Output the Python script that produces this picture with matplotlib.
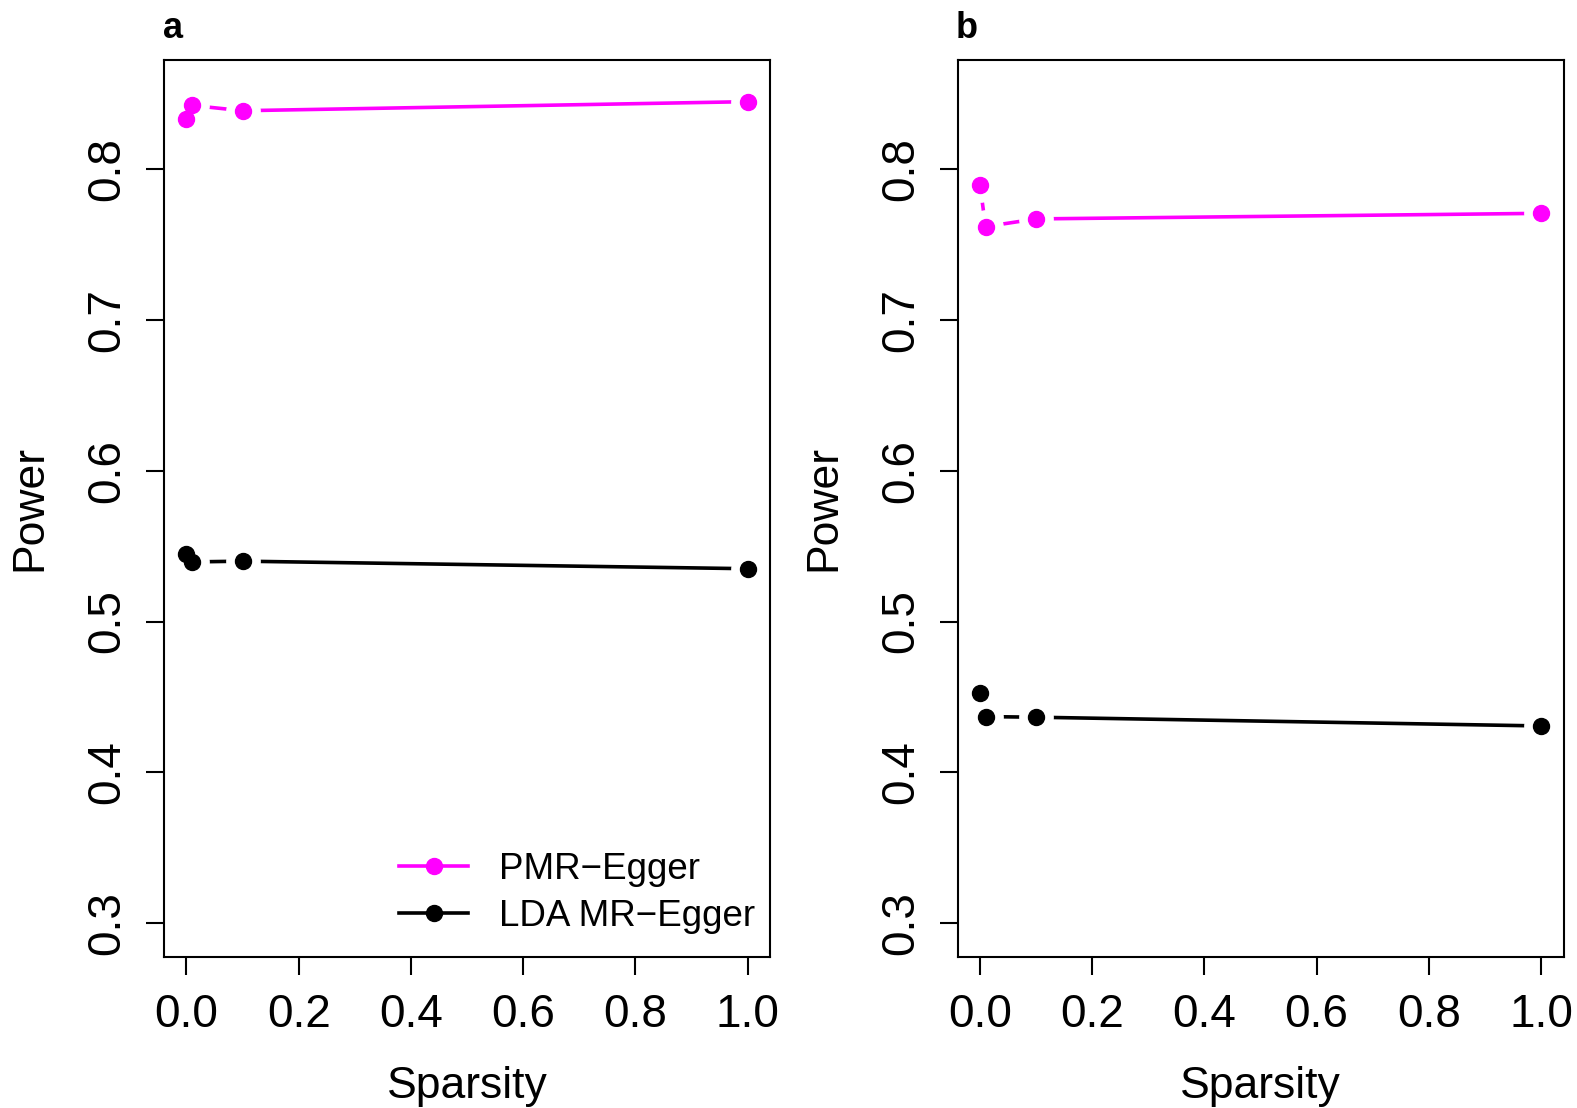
import matplotlib.pyplot as plt
from matplotlib.lines import Line2D

plt.rcParams['font.family'] = ['Liberation Sans', 'DejaVu Sans']

sparsity = [0.0, 0.01, 0.1, 1.0]

pmr_a = [0.833, 0.842, 0.8385, 0.8445]
lda_a = [0.5445, 0.5395, 0.540, 0.535]
pmr_b = [0.7895, 0.7617, 0.7668, 0.7705]
lda_b = [0.4525, 0.437, 0.4366, 0.4308]

panels = ['a', 'b']
series_names = ['PMR\u2212Egger', 'LDA MR\u2212Egger']
colors = ['#ff00ff', 'black']

xticks = [0.0, 0.2, 0.4, 0.6, 0.8, 1.0]
yticks = [0.3, 0.4, 0.5, 0.6, 0.7, 0.8]

fig = plt.figure(figsize=(15.77, 11.08), dpi=100)

lefts = [164 / 1577, 957.5 / 1577]
data = [(pmr_a, lda_a), (pmr_b, lda_b)]

for i, left in enumerate(lefts):
    ax = fig.add_axes([left, 0.1367, 0.3843, 0.809])
    for vals, c in zip(data[i], colors):
        # R type="b": line with gaps round the points
        ax.plot(sparsity, vals, color=c, lw=2.6, zorder=2, solid_capstyle='butt')
        ax.plot(sparsity, vals, ls='none', marker='o', ms=25, mfc='white', mec='none', zorder=3)
        ax.plot(sparsity, vals, ls='none', marker='o', ms=11.5, color=c, zorder=4)
    ax.set_xlim(-0.04, 1.04)
    ax.set_ylim(0.278, 0.872)
    ax.set_xticks(xticks)
    ax.set_xticklabels(['%.1f' % v for v in xticks])
    ax.set_yticks(yticks)
    ax.set_yticklabels(['%.1f' % v for v in yticks], rotation=90, va='center')
    ax.tick_params(axis='both', labelsize=33, length=13, width=1.5, direction='out')
    ax.tick_params(axis='x', pad=13)
    ax.tick_params(axis='y', pad=12)
    for s in ax.spines.values():
        s.set_linewidth(1.5)
    ax.set_xlabel('Sparsity', fontsize=32, labelpad=21)
    ax.set_ylabel('Power', fontsize=32, labelpad=25)
    ax.text(0.015, 1.035, panels[i], transform=ax.transAxes, fontsize=26,
            fontweight='bold', ha='center', va='center')
    if i == 0:
        handles = [Line2D([], [], color=c, lw=2.6, marker='o', ms=11.5) for c in colors]
        ax.legend(handles, series_names, loc='lower left', bbox_to_anchor=(0.388, 0.025),
                  frameon=False, fontsize=26.5, handlelength=1.87, handletextpad=0.85,
                  borderpad=0, borderaxespad=0, labelspacing=0.32)

fig.savefig('out.png', dpi=100)
